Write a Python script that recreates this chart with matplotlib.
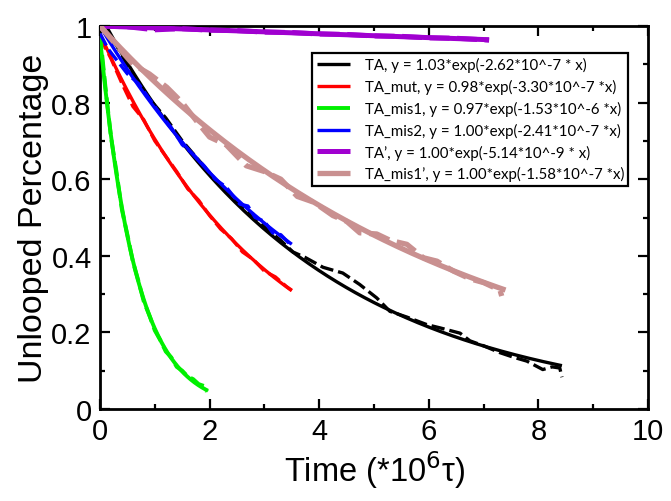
import numpy as np
import matplotlib
matplotlib.use("Agg")
import matplotlib.pyplot as plt
from matplotlib.ticker import MultipleLocator

# ---- data ----
series_names = ["TA", "TA_mut", "TA_mis1", "TA_mis2", "TA\u2019", "TA_mis1\u2019"]
legend_labels = [
    "TA, y = 1.03*exp(-2.62*10^-7 * x)",
    "TA_mut, y = 0.98*exp(-3.30*10^-7 *x)",
    "TA_mis1, y = 0.97*exp(-1.53*10^-6 *x)",
    "TA_mis2, y = 1.00*exp(-2.41*10^-7 *x)",
    "TA\u2019, y = 1.00*exp(-5.14*10^-9 * x)",
    "TA_mis1\u2019, y = 1.00*exp(-1.58*10^-7 *x)",
]
# fit parameters from legend (amplitude, rate per 1e6 tau) and fitted time span end
fit_amp = [1.03, 0.98, 0.97, 1.00, 1.00, 1.00]
fit_rate = [0.262, 0.330, 1.53, 0.241, 0.00514, 0.158]
fit_tend = [8.43, 3.5, 1.97, 3.5, 7.1, 7.4]

# raw simulation data
ta_t = [0, 0.3, 0.6, 0.9, 1.2, 1.5, 1.8, 2.1, 2.4, 2.7, 3.0, 3.3, 3.52, 3.74, 4.07, 4.43, 4.74,
        5.05, 5.29, 5.6, 5.97, 6.2, 6.57, 6.75, 7.0, 7.3, 7.55, 7.79, 8.08, 8.25, 8.39, 8.43]
ta_y = [1.00, 0.95, 0.87, 0.81, 0.76, 0.70, 0.65, 0.60, 0.555, 0.515, 0.475, 0.44, 0.41, 0.396,
        0.37, 0.355, 0.325, 0.29, 0.255, 0.24, 0.22, 0.212, 0.198, 0.178, 0.165, 0.147, 0.135, 0.125,
        0.103, 0.11, 0.107, 0.083]
mut_t = [0, 0.2, 0.4, 0.6, 0.8, 1.0, 1.2, 1.4, 1.6, 1.8, 2.0, 2.2, 2.4, 2.6, 2.8, 3.0, 3.2, 3.4, 3.5]
mut_y = [0.97, 0.915, 0.85, 0.79, 0.755, 0.70, 0.66, 0.62, 0.575, 0.545, 0.505, 0.47, 0.445, 0.41,
         0.39, 0.36, 0.345, 0.32, 0.31]
mis1_t = [0, 0.1, 0.2, 0.3, 0.4, 0.5, 0.6, 0.7, 0.8, 0.9, 1.0, 1.1, 1.2, 1.3, 1.4, 1.5, 1.6, 1.7,
          1.8, 1.9, 1.95]
mis1_y = [0.98, 0.84, 0.71, 0.62, 0.52, 0.455, 0.385, 0.335, 0.28, 0.245, 0.205, 0.18, 0.15, 0.135,
          0.11, 0.10, 0.085, 0.078, 0.065, 0.06, 0.045]
mis2_t = [0, 0.15, 0.31, 0.5, 0.7, 0.9, 1.1, 1.3, 1.5, 1.7, 1.9, 2.1, 2.3, 2.55, 2.7, 2.83, 3.0,
          3.15, 3.3, 3.47]
mis2_y = [0.98, 0.94, 0.91, 0.875, 0.85, 0.81, 0.77, 0.735, 0.69, 0.665, 0.635, 0.60, 0.58, 0.535,
          0.53, 0.50, 0.49, 0.46, 0.455, 0.43]
tap_t = [0, 0.5, 1.0, 1.5, 2.0, 2.5, 3.0, 3.5, 4.0, 4.5, 5.0, 5.5, 6.0, 6.5, 7.0, 7.1]
tap_y = [1.0, 0.998, 0.99, 0.993, 0.989, 0.988, 0.984, 0.983, 0.979, 0.978, 0.974, 0.973, 0.969,
         0.968, 0.964, 0.963]
mis1p_t = [0, 0.3, 0.6, 0.9, 1.22, 1.5, 1.8, 2.0, 2.3, 2.67, 3.0, 3.3, 3.6, 3.9, 4.25, 4.5, 4.74,
           5.05, 5.3, 5.6, 5.9, 6.15, 6.45, 6.75, 7.0, 7.3, 7.33]
mis1p_y = [1.0, 0.95, 0.90, 0.875, 0.84, 0.80, 0.745, 0.71, 0.69, 0.635, 0.62, 0.60, 0.555, 0.54,
           0.505, 0.49, 0.46, 0.457, 0.44, 0.43, 0.395, 0.386, 0.36, 0.34, 0.33, 0.31, 0.295]

raw_t = [ta_t, mut_t, mis1_t, mis2_t, tap_t, mis1p_t]
raw_y = [ta_y, mut_y, mis1_y, mis2_y, tap_y, mis1p_y]

colors = ["#000000", "#ff0000", "#00f000", "#0000ff", "#a000d0", "#c99090"]
widths = [2.4, 2.4, 2.8, 2.4, 3.6, 3.8]

fig = plt.figure(figsize=(6.71, 5.02), dpi=100)
ax = fig.add_axes([100/671, 1-410/502, 548/671, 383/502])

handles = []
for i in range(6):
    tt = np.linspace(0, fit_tend[i], 200)
    yy = fit_amp[i] * np.exp(-fit_rate[i] * tt)
    h, = ax.plot(tt, yy, color=colors[i], lw=widths[i], solid_capstyle='butt', zorder=3)
    ax.plot(raw_t[i], raw_y[i], color=colors[i], lw=widths[i], linestyle=(0, (4, 1.5)), zorder=3)
    handles.append(h)

ax.set_xlim(0, 10)
ax.set_ylim(0, 1)
ax.xaxis.set_major_locator(MultipleLocator(2))
ax.xaxis.set_minor_locator(MultipleLocator(1))
ax.yaxis.set_major_locator(MultipleLocator(0.2))
ax.yaxis.set_minor_locator(MultipleLocator(0.1))
ax.tick_params(which='both', direction='in', top=True, right=True, width=1.6,
               labelsize=21, pad=6)
ax.tick_params(which='major', length=7)
ax.tick_params(which='minor', length=3.5)
ax.set_xticks([0, 2, 4, 6, 8, 10])
ax.set_xticklabels(["0", "2", "4", "6", "8", "10"], fontfamily="Liberation Sans")
ax.set_yticks([0, 0.2, 0.4, 0.6, 0.8, 1.0])
ax.set_yticklabels(["0", "0.2", "0.4", "0.6", "0.8", "1"], fontfamily="Liberation Sans")
for s in ax.spines.values():
    s.set_linewidth(2)

ax.set_xlabel("Time (*10$^{6}$\u03c4)", fontsize=23.5, fontfamily="Liberation Sans", labelpad=2)
ax.set_ylabel("Unlooped Percentage", fontsize=24.5, fontfamily="Liberation Sans", labelpad=2)

leg = ax.legend(handles, legend_labels, loc='upper left', bbox_to_anchor=(0.387, 0.93),
                borderaxespad=0,
                prop={'family': 'Lato', 'size': 10.8}, frameon=True, fancybox=False,
                framealpha=1, edgecolor='black', handlelength=2.2, labelspacing=0.45,
                borderpad=0.3, handletextpad=1.0)
leg.get_frame().set_linewidth(1.6)

fig.savefig("out.png", dpi=100)
